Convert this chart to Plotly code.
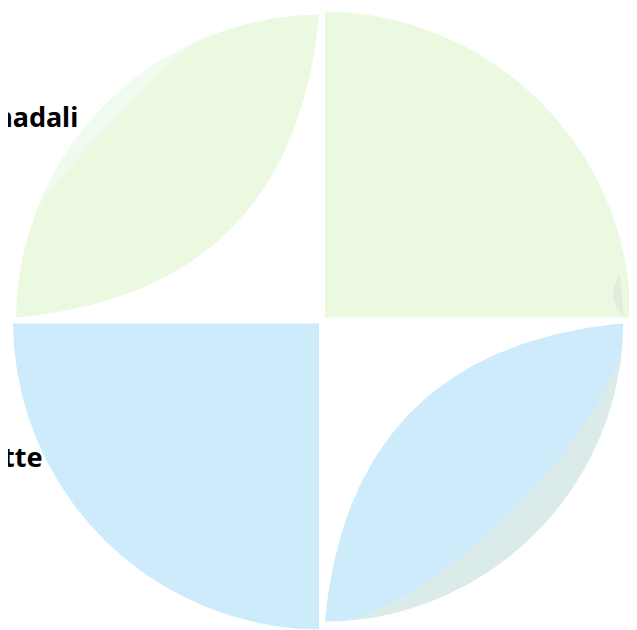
import numpy as np
import plotly.graph_objects as go

# chord-style layout: four blocks around the circle (share of the circle, %)
block_share = [25, 25, 25, 25]
block_kind = ["sector", "leaf", "sector", "leaf"]
block_radius = [1.0, 0.99, 1.0, 0.975]
block_color = ["#eaf9e0", "#eaf9e0", "#cdebfa", "#cdebfa"]
gap_deg = 1.1

# thin overlapping ribbons: start / end angle (deg), depth of the crescent
band_start = [114.0, 275.6, 0.8]
band_end = [158.8, 354.2, 8.9]
band_depth = [0.055, 0.105, 0.03]
band_radius = [0.99, 0.975, 0.975]
band_color = ["#eefbee", "#dbebea", "#e3ebdd"]

# group labels
names = ["Mohammadali", "Charlotte"]
label_x = [-0.784, -0.898]
label_y = [0.659, -0.44]


def pt(r, deg):
    a = np.radians(deg)
    return r * np.cos(a), r * np.sin(a)


def arc(r, a0, a1, n=120):
    t = np.linspace(a0, a1, n)
    return list(r * np.cos(np.radians(t))), list(r * np.sin(np.radians(t)))


def bezier(p0, c, p2, n=80):
    t = np.linspace(0, 1, n)
    x = (1 - t) ** 2 * p0[0] + 2 * t * (1 - t) * c[0] + t ** 2 * p2[0]
    y = (1 - t) ** 2 * p0[1] + 2 * t * (1 - t) * c[1] + t ** 2 * p2[1]
    return list(x), list(y)


fig = go.Figure()

edges = np.concatenate([[0], np.cumsum(block_share)]) * 3.6
for i, kind in enumerate(block_kind):
    s = edges[i] + gap_deg / 2
    e = edges[i + 1] - gap_deg / 2
    mid = (s + e) / 2
    r = block_radius[i]
    if kind == "sector":
        ax, ay = arc(r, s, e)
        half = np.radians((e - s + gap_deg) / 2)
        d = np.sin(np.radians(gap_deg / 2)) / np.sin(half)
        cx, cy = pt(d, mid)
        xs, ys = ax + [cx], ay + [cy]
    else:
        ax, ay = arc(r, s, e)
        bx, by = bezier(pt(r, e), pt(0.13, mid), pt(r, s))
        xs, ys = ax + bx, ay + by
    fig.add_trace(go.Scatter(x=xs, y=ys, mode="lines", fill="toself",
                             fillcolor=block_color[i], line=dict(width=0),
                             hoverinfo="skip"))

# crescents hugging the rim
for s, e, dep, r, col in zip(band_start, band_end, band_depth, band_radius, band_color):
    t = np.linspace(0, 1, 100)
    ang = np.radians(s + (e - s) * t)
    rin = r - dep * np.sin(np.pi * t)
    ox, oy = arc(r, s, e, 100)
    ix = list((rin * np.cos(ang))[::-1])
    iy = list((rin * np.sin(ang))[::-1])
    fig.add_trace(go.Scatter(x=ox + ix, y=oy + iy, mode="lines", fill="toself",
                             fillcolor=col, line=dict(width=0), hoverinfo="skip"))

for name, lx, ly in zip(names, label_x, label_y):
    fig.add_annotation(x=lx, y=ly, text="<b>" + name + "</b>", showarrow=False,
                       xanchor="right", yanchor="middle",
                       font=dict(family="Noto Sans", size=27, color="black"))

# 309 px per unit, circle centre at (314, 312.5) inside the figure
px = 309.0
fig.update_xaxes(range=[-314 / px, 323 / px], visible=False, fixedrange=True)
fig.update_yaxes(range=[-317.5 / px, 312.5 / px], visible=False, fixedrange=True)
fig.update_layout(width=637, height=630, margin=dict(l=0, r=0, t=0, b=0),
                  showlegend=False, paper_bgcolor="white", plot_bgcolor="white",
                  autosize=False)

fig.write_html("out.html")
